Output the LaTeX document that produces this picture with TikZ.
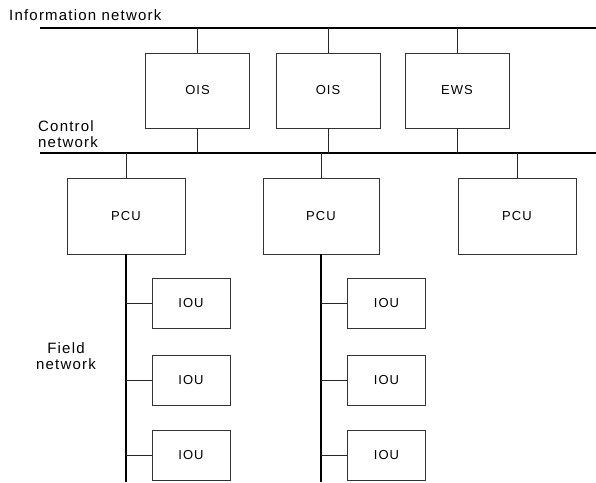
\documentclass[tikz,border=0pt]{standalone}
\usepackage{fontspec}
\setmainfont[LetterSpace=8]{Liberation Sans}
\usetikzlibrary{positioning}
\begin{document}
\begin{tikzpicture}[x=1pt,y=-1pt,
  unitbox/.style={draw=black!80,line width=0.8pt,inner sep=0pt,
    minimum width=#1,minimum height=75pt,font=\fontsize{13}{15}\selectfont},
  unitbox/.default=104pt,
  ioubox/.style={unitbox=78pt,minimum height=50pt},
  bus/.style={line width=2.4pt},
  link/.style={draw=black!85,line width=0.8pt},
  lbl/.style={font=\fontsize{15}{16}\selectfont,inner sep=0pt}]
\useasboundingbox (0,0) rectangle (596,482);
\coordinate (infoL) at (40,28);
\coordinate (infoR) at (596,28);
\coordinate (ctrlL) at (40,153);
\coordinate (ctrlR) at (596,153);
\draw[bus] (infoL) -- (infoR);
\draw[bus] (ctrlL) -- (ctrlR);
\node[lbl,anchor=west] (infolbl) at (9,15) {Information network};
\node[lbl,anchor=west,align=left] (ctrllbl) at (38,134) {Control\\network};
\node[lbl,align=center] (fieldlbl) at (66,356) {Field\\network};
\node[unitbox] (ois1) at (197.5,90.5) {OIS};
\node[unitbox] (ois2) at (328,90.5) {OIS};
\node[unitbox] (ews) at (457,90.5) {EWS};
\foreach \n in {ois1,ois2,ews} {
  \draw[link] (\n.north) -- (\n.north |- infoL);
  \draw[link] (\n.south) -- (\n.south |- ctrlL);
}
\node[unitbox=118pt,minimum height=76pt] (pcu1) at (126,216) {PCU};
\node[unitbox=116pt,minimum height=76pt] (pcu2) at (321,216) {PCU};
\node[unitbox=118pt,minimum height=76pt] (pcu3) at (517,216) {PCU};
\foreach \n in {pcu1,pcu2,pcu3}
  \draw[link] (\n.north) -- (\n.north |- ctrlL);
\coordinate (fieldA) at (126,482);
\coordinate (fieldB) at (321,482);
\draw[bus] (pcu1.south) -- (fieldA);
\draw[bus] (pcu2.south) -- (fieldB);
\foreach \y [count=\i] in {303.5,380.5,455.5} {
  \node[ioubox] (iouA\i) at (191,\y) {IOU};
  \node[ioubox] (iouB\i) at (386.5,\y) {IOU};
  \draw[link] (iouA\i.west) -- (iouA\i.west -| fieldA);
  \draw[link] (iouB\i.west) -- (iouB\i.west -| fieldB);
}
\end{tikzpicture}
\end{document}
